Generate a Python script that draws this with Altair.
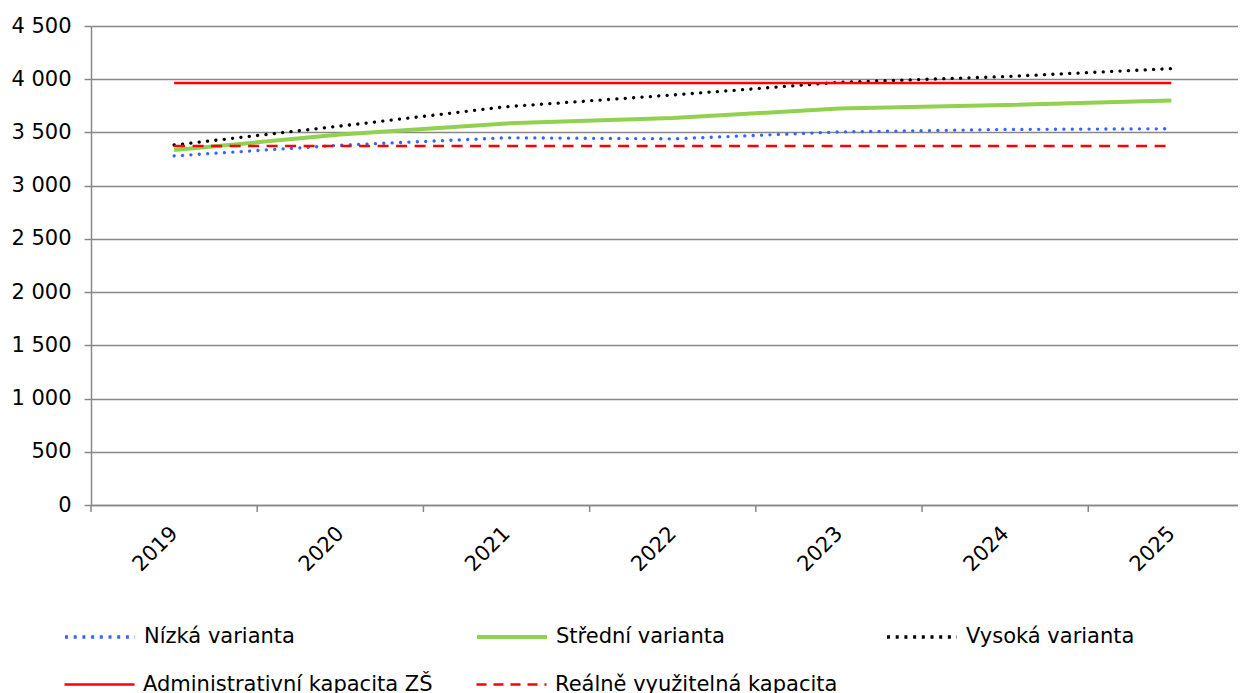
import altair as alt
import pandas as pd

# ---- data ----
years = [2019, 2020, 2021, 2022, 2023, 2024, 2025]
nizka = [3280, 3380, 3450, 3440, 3505, 3528, 3535]
stredni = [3335, 3480, 3585, 3635, 3725, 3758, 3799]
vysoka = [3382, 3560, 3742, 3852, 3971, 4025, 4100]
admin = [3965, 3965, 3965, 3965, 3965, 3965, 3965]
realne = [3373, 3373, 3373, 3373, 3373, 3373, 3373]
series_names = [
    "Nízká varianta",
    "Střední varianta",
    "Vysoká varianta",
    "Administrativní kapacita ZŠ",
    "Reálně využitelná kapacita",
]
series_values = [nizka, stredni, vysoka, admin, realne]
y_ticks = [0, 500, 1000, 1500, 2000, 2500, 3000, 3500, 4000, 4500]
category_edges = [2018.5, 2019.5, 2020.5, 2021.5, 2022.5, 2023.5, 2024.5]

# ---- styles ----
FONT = "DejaVu Sans"
FS = 21
GRAY = "#888888"
SYM = 70
styles = [
    dict(color="#3366FF", width=3.3, dash=[0.1, 8.3], cap="round", ldash=[3, 5.7], lx=-28, ly=574),
    dict(color="#92D050", width=4, dash=None, cap="butt", ldash=None, lx=384, ly=574),
    dict(color="#000000", width=3.3, dash=[0.1, 8.3], cap="round", ldash=[3, 5.7], lx=794, ly=574),
    dict(color="#FF0000", width=2.5, dash=None, cap="butt", ldash=None, lx=-28, ly=622),
    dict(color="#FF0000", width=2.5, dash=[11, 7.5], cap="butt", ldash=[10, 7], lx=384, ly=622),
]

x_scale = alt.Scale(domain=[2018.5, 2025.401], nice=False, zero=False)
y_scale = alt.Scale(domain=[0, 4500], nice=False)

x_axis = alt.Axis(
    values=years, format="d", title=None, grid=False, ticks=False,
    labelAngle=-45, labelAlign="right", labelBaseline="middle",
    labelPadding=25, labelFontSize=FS, labelFont=FONT, labelColor="black",
    domainColor=GRAY, domainWidth=1.5, labelOverlap=False,
)
y_axis = alt.Axis(
    values=y_ticks, title=None, grid=True, gridColor=GRAY, gridWidth=1.5,
    tickSize=7, tickColor=GRAY, tickWidth=1.5, labelPadding=13,
    labelFontSize=FS, labelFont=FONT, labelColor="black",
    domainColor=GRAY, domainWidth=1.5,
    labelExpr="replace(format(datum.value, ','), ',', ' ')",
)

layers = []

edges_df = pd.DataFrame({"edge": category_edges})
ticks = alt.Chart(edges_df).mark_rule(color=GRAY, strokeWidth=1.5).encode(
    x=alt.X("edge:Q", scale=x_scale, axis=x_axis),
    y=alt.value(479),
    y2=alt.value(486),
)
layers.append(ticks)

for name, vals, st in zip(series_names, series_values, styles):
    df = pd.DataFrame({"year": years, "value": vals, "series": name})
    mark_kw = dict(strokeWidth=st["width"], strokeCap=st["cap"])
    if st["dash"]:
        mark_kw["strokeDash"] = st["dash"]
    leg_kw = dict(
        orient="none", legendX=st["lx"], legendY=st["ly"], title=None,
        symbolType="stroke", symbolSize=SYM * SYM, symbolStrokeWidth=st["width"],
        symbolStrokeColor=st["color"],
        labelFontSize=FS, labelFont=FONT, labelColor="black",
        labelOffset=7, labelLimit=0,
    )
    if st["ldash"]:
        leg_kw["symbolDash"] = st["ldash"]
    line = alt.Chart(df).mark_line(**mark_kw).encode(
        x=alt.X("year:Q", scale=x_scale, axis=x_axis),
        y=alt.Y("value:Q", scale=y_scale, axis=y_axis),
        color=alt.Color(
            "series:N",
            scale=alt.Scale(domain=[name], range=[st["color"]]),
            legend=alt.Legend(**leg_kw),
        ),
    )
    layers.append(line)

chart = (
    alt.layer(*layers)
    .resolve_scale(color="independent")
    .resolve_legend(color="independent")
    .properties(
        width=1147,
        height=479,
        padding={"left": 83, "top": 18, "right": 0, "bottom": 200},
        autosize=alt.AutoSizeParams(type="none"),
    )
    .configure_view(stroke=None)
)

chart.save("out.html", embed_options={"renderer": "svg", "actions": False})
